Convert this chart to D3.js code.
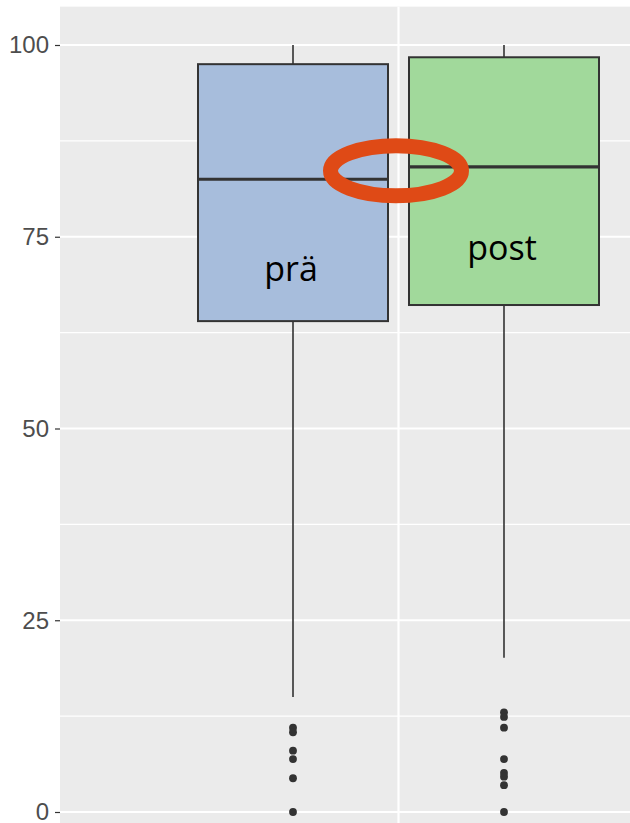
<!DOCTYPE html>
<html>
<head>
<meta charset="utf-8">
<script src="https://cdn.jsdelivr.net/npm/d3@7"></script>
<style>
  body { margin: 0; background: #fff; }
  svg { display: block; }
</style>
</head>
<body>
<svg id="chart" width="630" height="823"></svg>
<script>
// box stats
const groups = ["prä", "post"];
const whiskerHigh = [100, 100];
const q3 = [97.5, 98.4];
const medians = [82.5, 84.1];
const q1 = [64.0, 66.1];
const whiskerLow = [15.0, 20.1];
const outliers = [
    [11.0, 10.4, 8.0, 6.9, 4.4, 0],
    [13.0, 12.4, 11.0, 6.9, 5.1, 4.6, 3.5, 0]
];
const fills = ["#a7bddc", "#a1d99b"];
const yTicks = [0, 25, 50, 75, 100];
const yMinor = [12.5, 37.5, 62.5, 87.5];

const width = 630, height = 823;
const svg = d3.select("#chart");

const y = d3.scaleLinear().domain([0, 100]).range([812, 45]);
const x = d3.scaleBand().domain(groups).range([198, 599]).paddingInner(0.0995);
const panelLeft = 60;
const panelTop = y(105);
const catX = (x("prä") + x("post") + x.bandwidth()) / 2;

// panel background
svg.append("rect")
    .attr("x", panelLeft).attr("y", panelTop)
    .attr("width", width - panelLeft).attr("height", height - panelTop)
    .attr("fill", "#ebebeb");

// grid
svg.selectAll(".minor").data(yMinor).enter().append("line")
    .attr("x1", panelLeft).attr("x2", width)
    .attr("y1", d => y(d)).attr("y2", d => y(d))
    .attr("stroke", "#fff").attr("stroke-width", 1.1);
svg.selectAll(".major").data(yTicks).enter().append("line")
    .attr("x1", panelLeft).attr("x2", width)
    .attr("y1", d => y(d)).attr("y2", d => y(d))
    .attr("stroke", "#fff").attr("stroke-width", 2.2);
svg.append("line")
    .attr("x1", catX).attr("x2", catX)
    .attr("y1", panelTop).attr("y2", height)
    .attr("stroke", "#fff").attr("stroke-width", 2.2);

// y axis
const yAxis = d3.axisLeft(y).tickValues(yTicks).tickSize(5).tickPadding(6);
const ax = svg.append("g").attr("transform", `translate(${panelLeft},0)`).call(yAxis);
ax.select(".domain").remove();
ax.selectAll(".tick line").attr("stroke", "#333").attr("stroke-width", 1.2);
ax.selectAll(".tick text")
    .attr("fill", "#4d4d4d")
    .attr("dy", "0.33em")
    .style("font-family", "'Liberation Sans', Arial, sans-serif")
    .style("font-size", "24px");

// boxes
const boxes = groups.map((g, i) => ({
    g, hi: whiskerHigh[i], q3: q3[i], med: medians[i], q1: q1[i], lo: whiskerLow[i],
    out: outliers[i], fill: fills[i]
}));

const bg = svg.selectAll(".box").data(boxes).enter().append("g");
const cx = d => x(d.g) + x.bandwidth() / 2;

bg.append("line")
    .attr("x1", cx).attr("x2", cx)
    .attr("y1", d => y(d.hi)).attr("y2", d => y(d.q3))
    .attr("stroke", "#333").attr("stroke-width", 1.6);
bg.append("line")
    .attr("x1", cx).attr("x2", cx)
    .attr("y1", d => y(d.q1)).attr("y2", d => y(d.lo))
    .attr("stroke", "#333").attr("stroke-width", 1.6);
bg.append("rect")
    .attr("x", d => x(d.g)).attr("width", x.bandwidth())
    .attr("y", d => y(d.q3)).attr("height", d => y(d.q1) - y(d.q3))
    .attr("fill", d => d.fill)
    .attr("stroke", "#333").attr("stroke-width", 2);
bg.append("line")
    .attr("x1", d => x(d.g)).attr("x2", d => x(d.g) + x.bandwidth())
    .attr("y1", d => y(d.med)).attr("y2", d => y(d.med))
    .attr("stroke", "#333").attr("stroke-width", 3.2);
bg.selectAll(".out").data(d => d.out.map(v => ({ v, cx: cx(d) }))).enter().append("circle")
    .attr("cx", d => d.cx).attr("cy", d => y(d.v)).attr("r", 3.9)
    .attr("fill", "#333");

// group labels inside the boxes
const labelAt = { "prä": 69.2, "post": 72.0 };
svg.selectAll(".lbl").data(groups).enter().append("text")
    .attr("x", d => x(d) + x.bandwidth() / 2 - 2)
    .attr("y", d => y(labelAt[d]))
    .attr("text-anchor", "middle")
    .style("font-family", "'Open Sans', sans-serif")
    .style("font-size", "34px")
    .attr("fill", "#000")
    .text(d => d);

// highlight ellipse around the medians
svg.append("ellipse")
    .attr("cx", catX - 2.5)
    .attr("cy", y(83.6))
    .attr("rx", 65.5).attr("ry", 25)
    .attr("fill", "none")
    .attr("stroke", "#df4a16")
    .attr("stroke-width", 15);
</script>
</body>
</html>
